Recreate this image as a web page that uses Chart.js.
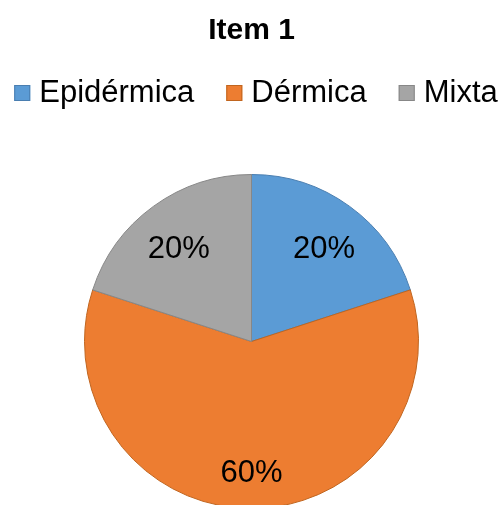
<!DOCTYPE html>
<html>
<head>
<meta charset="utf-8">
<script src="https://cdn.jsdelivr.net/npm/chart.js@4/dist/chart.umd.min.js"></script>
<style>
  html, body { margin: 0; padding: 0; overflow: hidden; background: #fff; }
  canvas { display: block; }
</style>
</head>
<body>
<canvas id="my-chart" width="503" height="509"></canvas>
<script>
'use strict';

// DATA
let categories = ['Epidérmica', 'Dérmica', 'Mixta'];
let shares = [20, 60, 20];
let chartTitle = 'Item 1';

// STYLE
let fillColors = ['#5B9BD5', '#ED7D31', '#A5A5A5'];
let edgeColors = ['#4A7EB0', '#C0651F', '#878787'];
let fontName = '"Liberation Sans", Arial, sans-serif';

let ctx = document.getElementById('my-chart');

// draws percent labels inside slices and the legend row
let labelPlugin = {
  id: 'labelPlugin',
  afterDraw(chart) {
    let c = chart.ctx;
    let meta = chart.getDatasetMeta(0);
    c.save();
    c.fillStyle = '#000';
    c.font = '31px ' + fontName;
    c.textAlign = 'center';
    c.textBaseline = 'middle';
    for (let i = 0; i < meta.data.length; i++) {
      let arc = meta.data[i];
      let mid = (arc.startAngle + arc.endAngle) / 2;
      let d = arc.outerRadius * 0.74;
      let x = arc.x + Math.cos(mid) * d;
      let y = arc.y + Math.sin(mid) * d + 8;
      c.fillText(shares[i] + '%', x, y);
    }

    // legend
    let boxSize = 16;
    let textGap = 9;
    let itemGap = 32;
    let widths = categories.map(name => c.measureText(name).width);
    let total = widths.reduce((a, b) => a + b, 0) + categories.length * (boxSize + textGap) + (categories.length - 1) * itemGap;
    let x = 256 - total / 2;
    let baseY = 102;
    c.textAlign = 'left';
    c.textBaseline = 'alphabetic';
    for (let i = 0; i < categories.length; i++) {
      c.fillStyle = fillColors[i];
      c.fillRect(x, baseY - 17, boxSize, boxSize);
      c.strokeStyle = edgeColors[i];
      c.lineWidth = 1;
      c.strokeRect(x + 0.5, baseY - 16.5, boxSize - 1, boxSize - 1);
      c.fillStyle = '#000';
      c.fillText(categories[i], x + boxSize + textGap, baseY);
      x += boxSize + textGap + widths[i] + itemGap;
    }
    c.restore();
  }
};

let chartObj = {
  type: 'pie',
  data: {
    labels: categories,
    datasets: [{
      data: shares,
      backgroundColor: fillColors,
      borderColor: edgeColors,
      borderWidth: 1
    }]
  },
  options: {
    responsive: false,
    animation: false,
    layout: { padding: 0 },
    plugins: {
      legend: { display: false },
      tooltip: { enabled: false },
      title: {
        display: true,
        text: chartTitle,
        color: '#000',
        font: { family: fontName, size: 30, weight: 'bold' },
        padding: { top: 13, bottom: 125 }
      }
    }
  },
  plugins: [labelPlugin]
};

new Chart(ctx, chartObj);
</script>
</body>
</html>
